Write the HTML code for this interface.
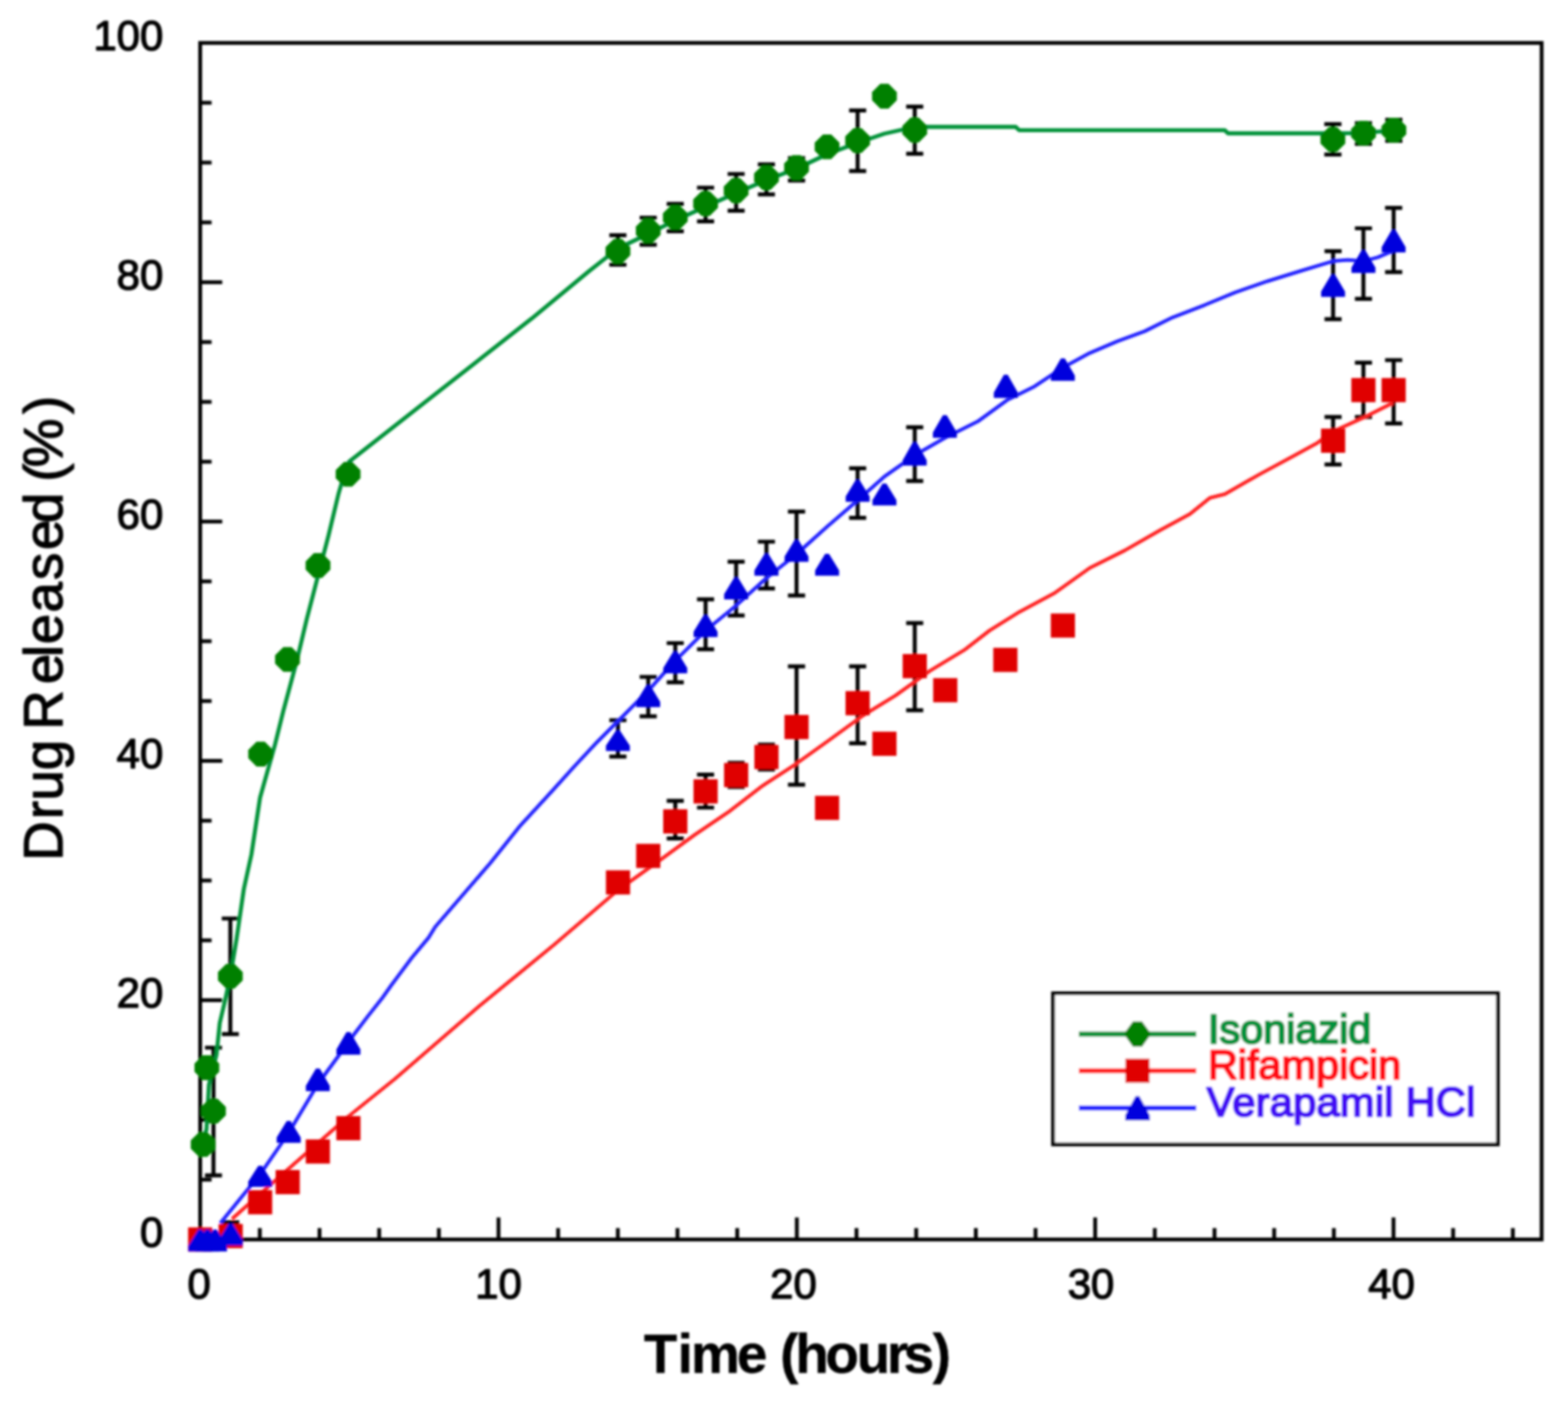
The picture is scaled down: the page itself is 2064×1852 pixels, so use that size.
<!DOCTYPE html>
<html lang="en"><head><meta charset="utf-8"><title>Drug release profile</title>
<style>html,body{margin:0;padding:0;background:#fff}body{width:2064px;height:1852px;overflow:hidden}svg{display:block}text{font-family:"Liberation Sans",Arial,Helvetica,sans-serif;fill:#000;stroke-linejoin:round}</style></head><body>
<svg width="2064" height="1852" viewBox="0 0 2064 1852">
<defs><filter id="soft" x="-2%" y="-2%" width="104%" height="104%"><feGaussianBlur stdDeviation="1.8"/></filter></defs>
<rect width="2064" height="1852" fill="#fff"/>
<g filter="url(#soft)">
<path d="M263.5 1552.8h15M263.5 1474.0h15M263.5 1395.2h15M263.5 1316.5h29M263.5 1237.8h15M263.5 1159.0h15M263.5 1080.2h15M263.5 1001.5h29M263.5 922.8h15M263.5 844.0h15M263.5 765.2h15M263.5 686.5h29M263.5 607.8h15M263.5 529.0h15M263.5 450.2h15M263.5 371.5h29M263.5 292.8h15M263.5 214.0h15M263.5 135.2h15M342.0 1631.5v-15M420.6 1631.5v-15M499.1 1631.5v-15M577.7 1631.5v-15M656.2 1631.5v-29M734.7 1631.5v-15M813.3 1631.5v-15M891.8 1631.5v-15M970.4 1631.5v-15M1048.9 1631.5v-29M1127.4 1631.5v-15M1206.0 1631.5v-15M1284.5 1631.5v-15M1363.1 1631.5v-15M1441.6 1631.5v-29M1520.1 1631.5v-15M1598.7 1631.5v-15M1677.2 1631.5v-15M1755.8 1631.5v-15M1834.3 1631.5v-29M1912.8 1631.5v-15M1991.4 1631.5v-15" stroke="#000" stroke-width="5.0" fill="none"/>
<rect x="263.5" y="56.5" width="1765.8" height="1575.0" fill="none" stroke="#000" stroke-width="5.0"/>
<g id="errorbars">
<path d="M281.0 1379.0V1547.2M269.8 1379.0H292.2M269.8 1547.2H292.2" stroke="#000" stroke-width="5.2" fill="none"/>
<path d="M303.2 1209.0V1361.2M291.9 1209.0H314.4M291.9 1361.2H314.4" stroke="#000" stroke-width="5.2" fill="none"/>
<path d="M813.4 309.6V348.5M802.1 309.6H824.6M802.1 348.5H824.6" stroke="#000" stroke-width="5.2" fill="none"/>
<path d="M853.3 286.5V322.1M842.0 286.5H864.5M842.0 322.1H864.5" stroke="#000" stroke-width="5.2" fill="none"/>
<path d="M888.9 268.4V304.3M877.6 268.4H900.1M877.6 304.3H900.1" stroke="#000" stroke-width="5.2" fill="none"/>
<path d="M928.8 247.0V291.4M917.5 247.0H940.0M917.5 291.4H940.0" stroke="#000" stroke-width="5.2" fill="none"/>
<path d="M969.0 229.0V277.3M957.8 229.0H980.2M957.8 277.3H980.2" stroke="#000" stroke-width="5.2" fill="none"/>
<path d="M1008.9 216.3V255.8M997.6 216.3H1020.1M997.6 255.8H1020.1" stroke="#000" stroke-width="5.2" fill="none"/>
<path d="M1048.5 208.0V237.7M1037.2 208.0H1059.8M1037.2 237.7H1059.8" stroke="#000" stroke-width="5.2" fill="none"/>
<path d="M1128.9 145.4V225.2M1117.7 145.4H1140.2M1117.7 225.2H1140.2" stroke="#000" stroke-width="5.2" fill="none"/>
<path d="M1204.1 140.4V202.4M1192.8 140.4H1215.3M1192.8 202.4H1215.3" stroke="#000" stroke-width="5.2" fill="none"/>
<path d="M1754.5 163.3V203.3M1743.2 163.3H1765.8M1743.2 203.3H1765.8" stroke="#000" stroke-width="5.2" fill="none"/>
<path d="M1794.8 162.0V189.5M1783.5 162.0H1806.0M1783.5 189.5H1806.0" stroke="#000" stroke-width="5.2" fill="none"/>
<path d="M1834.8 157.5V185.5M1823.5 157.5H1846.0M1823.5 185.5H1846.0" stroke="#000" stroke-width="5.2" fill="none"/>
<path d="M303.6 1608.8V1627.0M292.4 1608.8H314.9" stroke="#000" stroke-width="5.2" fill="none"/>
<path d="M888.9 1054.2V1103.6M877.6 1054.2H900.1M877.6 1103.6H900.1" stroke="#000" stroke-width="5.2" fill="none"/>
<path d="M928.8 1019.6V1063.0M917.5 1019.6H940.0M917.5 1063.0H940.0" stroke="#000" stroke-width="5.2" fill="none"/>
<path d="M969.0 1004.0V1036.0M957.8 1004.0H980.2M957.8 1036.0H980.2" stroke="#000" stroke-width="5.2" fill="none"/>
<path d="M1008.9 980.0V1013.0M997.6 980.0H1020.1M997.6 1013.0H1020.1" stroke="#000" stroke-width="5.2" fill="none"/>
<path d="M1048.5 877.1V1032.8M1037.2 877.1H1059.8M1037.2 1032.8H1059.8" stroke="#000" stroke-width="5.2" fill="none"/>
<path d="M1128.9 877.1V978.4M1117.7 877.1H1140.2M1117.7 978.4H1140.2" stroke="#000" stroke-width="5.2" fill="none"/>
<path d="M1204.1 820.1V934.8M1192.8 820.1H1215.3M1192.8 934.8H1215.3" stroke="#000" stroke-width="5.2" fill="none"/>
<path d="M1754.8 548.8V611.4M1743.5 548.8H1766.0M1743.5 611.4H1766.0" stroke="#000" stroke-width="5.2" fill="none"/>
<path d="M1794.7 477.3V548.8M1783.5 477.3H1806.0M1783.5 548.8H1806.0" stroke="#000" stroke-width="5.2" fill="none"/>
<path d="M1834.5 474.0V557.4M1823.2 474.0H1845.8M1823.2 557.4H1845.8" stroke="#000" stroke-width="5.2" fill="none"/>
<path d="M813.4 948.0V995.8M802.1 948.0H824.6M802.1 995.8H824.6" stroke="#000" stroke-width="5.2" fill="none"/>
<path d="M853.3 891.0V942.8M842.0 891.0H864.5M842.0 942.8H864.5" stroke="#000" stroke-width="5.2" fill="none"/>
<path d="M888.9 846.5V898.2M877.6 846.5H900.1M877.6 898.2H900.1" stroke="#000" stroke-width="5.2" fill="none"/>
<path d="M928.8 788.8V854.7M917.5 788.8H940.0M917.5 854.7H940.0" stroke="#000" stroke-width="5.2" fill="none"/>
<path d="M969.0 739.3V810.2M957.8 739.3H980.2M957.8 810.2H980.2" stroke="#000" stroke-width="5.2" fill="none"/>
<path d="M1008.9 713.0V774.6M997.6 713.0H1020.1M997.6 774.6H1020.1" stroke="#000" stroke-width="5.2" fill="none"/>
<path d="M1048.5 673.4V783.8M1037.2 673.4H1059.8M1037.2 783.8H1059.8" stroke="#000" stroke-width="5.2" fill="none"/>
<path d="M1128.9 616.4V681.6M1117.7 616.4H1140.2M1117.7 681.6H1140.2" stroke="#000" stroke-width="5.2" fill="none"/>
<path d="M1204.1 562.3V633.2M1192.8 562.3H1215.3M1192.8 633.2H1215.3" stroke="#000" stroke-width="5.2" fill="none"/>
<path d="M1754.8 330.7V420.2M1743.5 330.7H1766.0M1743.5 420.2H1766.0" stroke="#000" stroke-width="5.2" fill="none"/>
<path d="M1794.7 300.5V393.3M1783.5 300.5H1806.0M1783.5 393.3H1806.0" stroke="#000" stroke-width="5.2" fill="none"/>
<path d="M1834.5 273.6V358.2M1823.2 273.6H1845.8M1823.2 358.2H1845.8" stroke="#000" stroke-width="5.2" fill="none"/>
</g>
<polyline points="267.0,1500.0 271.8,1487.0 275.0,1427.8 285.0,1388.0 289.3,1346.5 296.0,1318.0 303.2,1285.0 311.3,1236.6 321.0,1170.0 331.0,1124.5 342.3,1050.0 362.1,979.7 373.0,935.7 390.7,869.8 403.8,814.8 418.1,759.9 432.4,705.0 445.6,650.0 452.0,628.0 459.6,607.7 700.0,419.2 776.0,356.4 813.4,327.0 853.0,308.0 889.0,290.0 929.0,272.0 969.0,254.0 1009.0,237.0 1048.5,222.0 1088.7,203.0 1128.9,188.0 1164.0,176.0 1204.1,167.0 1337.0,167.0 1341.5,171.3 1612.0,171.3 1616.5,175.5 1754.5,175.5 1794.8,175.2 1834.8,171.4" fill="none" stroke="#009238" stroke-width="5.3" stroke-linejoin="round"/>
<polyline points="305.5,1604.4 326.4,1585.7 378.0,1540.0 458.0,1470.0 520.0,1420.0 630.0,1325.0 730.0,1243.0 813.0,1172.0 871.8,1130.0 914.6,1098.7 960.8,1067.4 1003.6,1034.4 1046.5,1006.4 1092.6,973.4 1135.5,942.1 1178.4,915.7 1224.5,882.7 1270.7,854.7 1302.5,830.0 1342.1,805.3 1388.2,780.6 1434.4,747.6 1480.6,724.5 1526.7,698.1 1566.3,676.7 1592.6,655.3 1612.4,650.3 1658.6,624.0 1704.7,599.2 1734.4,582.8 1754.8,567.9 1794.7,549.8 1834.0,530.0" fill="none" stroke="#ff2222" stroke-width="4.8" stroke-linejoin="round"/>
<polyline points="290.0,1610.0 342.9,1545.0 378.8,1493.0 418.4,1427.0 458.6,1372.0 467.4,1359.7 485.0,1336.6 502.5,1314.6 515.7,1296.0 542.0,1260.8 564.0,1234.4 572.9,1220.0 645.4,1136.0 685.0,1086.6 724.5,1043.7 755.8,1009.0 786.0,976.7 813.4,949.3 853.3,909.1 888.9,869.6 928.8,830.0 969.0,797.0 1008.9,760.8 1048.5,729.4 1088.7,693.2 1128.9,658.6 1164.2,627.3 1204.1,599.2 1244.3,576.2 1287.1,554.7 1325.6,526.7 1361.9,508.6 1399.1,483.8 1434.4,464.7 1470.7,449.2 1506.9,436.0 1543.2,417.9 1586.0,401.4 1625.6,385.0 1668.5,370.1 1711.3,356.9 1754.8,343.7 1774.0,342.1 1794.7,343.7 1813.5,338.8 1834.0,330.0" fill="none" stroke="#2222ff" stroke-width="4.8" stroke-linejoin="round"/>
<g id="rif">
<rect x="247.6" y="1615.6" width="31.8" height="31.8" fill="#e00000"/>
<rect x="287.7" y="1611.1" width="31.8" height="31.8" fill="#e00000"/>
<rect x="326.5" y="1566.6" width="31.8" height="31.8" fill="#e00000"/>
<rect x="362.8" y="1540.1" width="31.8" height="31.8" fill="#e00000"/>
<rect x="402.5" y="1499.8" width="31.8" height="31.8" fill="#e00000"/>
<rect x="442.7" y="1469.1" width="31.8" height="31.8" fill="#e00000"/>
<rect x="797.6" y="1145.6" width="31.8" height="31.8" fill="#e00000"/>
<rect x="837.4" y="1110.7" width="31.8" height="31.8" fill="#e00000"/>
<rect x="873.0" y="1065.3" width="31.8" height="31.8" fill="#e00000"/>
<rect x="912.9" y="1025.8" width="31.8" height="31.8" fill="#e00000"/>
<rect x="953.1" y="1004.3" width="31.8" height="31.8" fill="#e00000"/>
<rect x="993.0" y="980.6" width="31.8" height="31.8" fill="#e00000"/>
<rect x="1032.6" y="941.1" width="31.8" height="31.8" fill="#e00000"/>
<rect x="1072.8" y="1047.5" width="31.8" height="31.8" fill="#e00000"/>
<rect x="1113.0" y="909.7" width="31.8" height="31.8" fill="#e00000"/>
<rect x="1148.3" y="963.1" width="31.8" height="31.8" fill="#e00000"/>
<rect x="1188.2" y="860.9" width="31.8" height="31.8" fill="#e00000"/>
<rect x="1228.4" y="892.6" width="31.8" height="31.8" fill="#e00000"/>
<rect x="1307.5" y="852.7" width="31.8" height="31.8" fill="#e00000"/>
<rect x="1383.2" y="807.5" width="31.8" height="31.8" fill="#e00000"/>
<rect x="1738.9" y="564.2" width="31.8" height="31.8" fill="#e00000"/>
<rect x="1778.8" y="497.6" width="31.8" height="31.8" fill="#e00000"/>
<rect x="1818.6" y="497.6" width="31.8" height="31.8" fill="#e00000"/>
</g><g id="ver">
<polygon points="261.0,1618.5 266.0,1618.5 279.2,1640.3 279.2,1647.3 247.8,1647.3 247.8,1640.3" fill="#0000dd"/>
<polygon points="270.5,1618.5 275.5,1618.5 288.8,1640.3 288.8,1647.3 257.2,1647.3 257.2,1640.3" fill="#0000dd"/>
<polygon points="280.5,1618.5 285.5,1618.5 298.8,1640.3 298.8,1647.3 267.2,1647.3 267.2,1640.3" fill="#0000dd"/>
<polygon points="301.1,1610.5 306.1,1610.5 319.4,1632.3 319.4,1639.3 287.9,1639.3 287.9,1632.3" fill="#0000dd"/>
<polygon points="340.0,1534.5 345.0,1534.5 358.2,1555.3 358.2,1562.3 326.8,1562.3 326.8,1555.3" fill="#0000dd"/>
<polygon points="377.5,1475.5 382.5,1475.5 395.8,1497.3 395.8,1504.3 364.2,1504.3 364.2,1497.3" fill="#0000dd"/>
<polygon points="415.9,1406.5 420.9,1406.5 434.1,1429.3 434.1,1436.3 402.6,1436.3 402.6,1429.3" fill="#0000dd"/>
<polygon points="456.1,1358.5 461.1,1358.5 474.4,1381.3 474.4,1388.3 442.9,1388.3 442.9,1381.3" fill="#0000dd"/>
<polygon points="810.9,961.4 815.9,961.4 829.1,981.5 829.1,988.5 797.6,988.5 797.6,981.5" fill="#0000dd"/>
<polygon points="850.8,902.0 855.8,902.0 869.0,923.8 869.0,930.8 837.5,930.8 837.5,923.8" fill="#0000dd"/>
<polygon points="886.4,857.5 891.4,857.5 904.6,879.3 904.6,886.3 873.1,886.3 873.1,879.3" fill="#0000dd"/>
<polygon points="926.3,809.7 931.3,809.7 944.5,831.5 944.5,838.5 913.0,838.5 913.0,831.5" fill="#0000dd"/>
<polygon points="966.5,760.3 971.5,760.3 984.8,782.1 984.8,789.1 953.2,789.1 953.2,782.1" fill="#0000dd"/>
<polygon points="1006.4,728.9 1011.4,728.9 1024.7,750.8 1024.7,757.8 993.1,757.8 993.1,750.8" fill="#0000dd"/>
<polygon points="1046.0,710.8 1051.0,710.8 1064.2,732.6 1064.2,739.6 1032.8,739.6 1032.8,732.6" fill="#0000dd"/>
<polygon points="1086.2,728.9 1091.2,728.9 1104.5,750.8 1104.5,757.8 1073.0,757.8 1073.0,750.8" fill="#0000dd"/>
<polygon points="1126.4,631.7 1131.4,631.7 1144.7,653.5 1144.7,660.5 1113.2,660.5 1113.2,653.5" fill="#0000dd"/>
<polygon points="1161.7,636.5 1166.7,636.5 1180.0,658.3 1180.0,665.3 1148.5,665.3 1148.5,658.3" fill="#0000dd"/>
<polygon points="1201.6,582.2 1206.6,582.2 1219.8,605.7 1219.8,612.7 1188.3,612.7 1188.3,605.7" fill="#0000dd"/>
<polygon points="1241.2,546.5 1246.2,546.5 1259.5,569.3 1259.5,576.3 1228.0,576.3 1228.0,569.3" fill="#0000dd"/>
<polygon points="1321.5,493.2 1326.5,493.2 1339.8,516.7 1339.8,523.7 1308.2,523.7 1308.2,516.7" fill="#0000dd"/>
<polygon points="1396.6,471.8 1401.6,471.8 1414.8,494.3 1414.8,501.3 1383.3,501.3 1383.3,494.3" fill="#0000dd"/>
<polygon points="1752.3,361.5 1757.3,361.5 1770.5,383.8 1770.5,390.8 1739.0,390.8 1739.0,383.8" fill="#0000dd"/>
<polygon points="1792.2,329.5 1797.2,329.5 1810.5,352.3 1810.5,359.3 1779.0,359.3 1779.0,352.3" fill="#0000dd"/>
<polygon points="1832.0,302.8 1837.0,302.8 1850.2,325.2 1850.2,332.2 1818.8,332.2 1818.8,325.2" fill="#0000dd"/>
</g><g id="iso">
<polygon points="262.0,1490.2 272.8,1490.2 283.7,1501.1 283.7,1511.9 272.8,1522.8 262.0,1522.8 251.1,1511.9 251.1,1501.1" fill="#008000"/>
<polygon points="275.6,1446.2 286.4,1446.2 297.3,1457.1 297.3,1467.9 286.4,1478.8 275.6,1478.8 264.7,1467.9 264.7,1457.1" fill="#008000"/>
<polygon points="266.9,1389.1 277.7,1389.1 288.6,1400.0 288.6,1410.8 277.7,1421.7 266.9,1421.7 256.0,1410.8 256.0,1400.0" fill="#008000"/>
<polygon points="297.8,1268.7 308.6,1268.7 319.5,1279.6 319.5,1290.4 308.6,1301.3 297.8,1301.3 286.9,1290.4 286.9,1279.6" fill="#008000"/>
<polygon points="337.7,976.3 348.5,976.3 359.4,987.2 359.4,998.0 348.5,1008.9 337.7,1008.9 326.8,998.0 326.8,987.2" fill="#008000"/>
<polygon points="373.0,851.7 383.8,851.7 394.7,862.6 394.7,873.4 383.8,884.3 373.0,884.3 362.1,873.4 362.1,862.6" fill="#008000"/>
<polygon points="413.2,728.1 424.0,728.1 434.9,739.0 434.9,749.8 424.0,760.7 413.2,760.7 402.3,749.8 402.3,739.0" fill="#008000"/>
<polygon points="452.8,607.9 463.6,607.9 474.5,618.8 474.5,629.6 463.6,640.5 452.8,640.5 441.9,629.6 441.9,618.8" fill="#008000"/>
<polygon points="808.0,314.4 818.8,314.4 829.7,325.3 829.7,336.1 818.8,347.0 808.0,347.0 797.1,336.1 797.1,325.3" fill="#008000"/>
<polygon points="847.9,287.3 858.7,287.3 869.6,298.2 869.6,309.0 858.7,319.9 847.9,319.9 837.0,309.0 837.0,298.2" fill="#008000"/>
<polygon points="883.5,269.9 894.3,269.9 905.2,280.8 905.2,291.6 894.3,302.5 883.5,302.5 872.6,291.6 872.6,280.8" fill="#008000"/>
<polygon points="923.4,251.7 934.2,251.7 945.1,262.6 945.1,273.4 934.2,284.3 923.4,284.3 912.5,273.4 912.5,262.6" fill="#008000"/>
<polygon points="963.6,234.6 974.4,234.6 985.3,245.5 985.3,256.3 974.4,267.2 963.6,267.2 952.7,256.3 952.7,245.5" fill="#008000"/>
<polygon points="1003.5,217.4 1014.3,217.4 1025.2,228.3 1025.2,239.1 1014.3,250.0 1003.5,250.0 992.6,239.1 992.6,228.3" fill="#008000"/>
<polygon points="1043.1,204.3 1053.9,204.3 1064.8,215.2 1064.8,226.0 1053.9,236.9 1043.1,236.9 1032.2,226.0 1032.2,215.2" fill="#008000"/>
<polygon points="1083.3,176.9 1094.1,176.9 1105.0,187.8 1105.0,198.6 1094.1,209.5 1083.3,209.5 1072.4,198.6 1072.4,187.8" fill="#008000"/>
<polygon points="1123.5,168.7 1134.3,168.7 1145.2,179.6 1145.2,190.4 1134.3,201.3 1123.5,201.3 1112.6,190.4 1112.6,179.6" fill="#008000"/>
<polygon points="1158.8,110.3 1169.6,110.3 1180.5,121.2 1180.5,132.0 1169.6,142.9 1158.8,142.9 1147.9,132.0 1147.9,121.2" fill="#008000"/>
<polygon points="1198.7,154.8 1209.5,154.8 1220.4,165.7 1220.4,176.5 1209.5,187.4 1198.7,187.4 1187.8,176.5 1187.8,165.7" fill="#008000"/>
<polygon points="1749.1,167.2 1759.9,167.2 1770.8,178.1 1770.8,188.9 1759.9,199.8 1749.1,199.8 1738.2,188.9 1738.2,178.1" fill="#008000"/>
<polygon points="1789.4,158.9 1800.2,158.9 1811.1,169.8 1811.1,180.6 1800.2,191.5 1789.4,191.5 1778.5,180.6 1778.5,169.8" fill="#008000"/>
<polygon points="1829.4,155.1 1840.2,155.1 1851.1,166.0 1851.1,176.8 1840.2,187.7 1829.4,187.7 1818.5,176.8 1818.5,166.0" fill="#008000"/>
</g>
<rect x="1386.2" y="1307.5" width="585.4" height="198.8" fill="#fff" stroke="#000" stroke-width="5.0"/>
<line x1="1420" y1="1361.1" x2="1574.6" y2="1361.1" stroke="#009238" stroke-width="6.8"/>
<line x1="1420" y1="1409.4" x2="1574.6" y2="1409.4" stroke="#ff2222" stroke-width="6.8"/>
<line x1="1420" y1="1458.3" x2="1574.6" y2="1458.3" stroke="#2222ff" stroke-width="6.8"/>
<polygon points="1491.3,1344.5 1503.3,1344.5 1513.9,1359.1 1513.9,1363.1 1503.3,1377.7 1491.3,1377.7 1480.7,1363.1 1480.7,1359.1" fill="#008000"/>
<rect x="1481.4" y="1393.5" width="31.8" height="31.8" fill="#e00000"/>
<polygon points="1494.8,1442.7 1499.8,1442.7 1513.5,1468.1 1513.5,1475.1 1481.0,1475.1 1481.0,1468.1" fill="#0000dd"/>
<text x="1590" y="1372.5" font-size="54.5" style="fill:#00923c;stroke:#00923c;stroke-width:3.0">Isoniazid</text>
<text x="1590" y="1420" font-size="54.5" style="fill:#ff0a14;stroke:#ff0a14;stroke-width:3.0">Rifampicin</text>
<text x="1588.5" y="1468.5" font-size="54.5" textLength="353.5" lengthAdjust="spacing" style="fill:#4408f4;stroke:#4408f4;stroke-width:3.0">Verapamil HCl</text>
<text x="215" y="1641.1" font-size="55.2" text-anchor="end" stroke="#000" stroke-width="1.6">0</text>
<text x="215" y="1326.1" font-size="55.2" text-anchor="end" stroke="#000" stroke-width="1.6">20</text>
<text x="215" y="1011.1" font-size="55.2" text-anchor="end" stroke="#000" stroke-width="1.6">40</text>
<text x="215" y="696.1" font-size="55.2" text-anchor="end" stroke="#000" stroke-width="1.6">60</text>
<text x="215" y="381.1" font-size="55.2" text-anchor="end" stroke="#000" stroke-width="1.6">80</text>
<text x="215" y="66.1" font-size="55.2" text-anchor="end" stroke="#000" stroke-width="1.6">100</text>
<text x="262.1" y="1708.6" font-size="55.2" text-anchor="middle" stroke="#000" stroke-width="1.6">0</text>
<text x="656.2" y="1708.6" font-size="55.2" text-anchor="middle" stroke="#000" stroke-width="1.6">10</text>
<text x="1044.4" y="1708.6" font-size="55.2" text-anchor="middle" stroke="#000" stroke-width="1.6">20</text>
<text x="1436.1" y="1708.6" font-size="55.2" text-anchor="middle" stroke="#000" stroke-width="1.6">30</text>
<text x="1831.8" y="1708.6" font-size="55.2" text-anchor="middle" stroke="#000" stroke-width="1.6">40</text>
<text y="1806.5" font-size="72" font-weight="bold" stroke="#000" stroke-width="0.6" x="847.5 891.9 909.7 970 1008 1027.1 1046.9 1086.6 1127.8 1167.5 1189.4 1227.8">Time (hours)</text>
<text transform="translate(82 1133) rotate(-90)" font-size="72" stroke="#000" stroke-width="1.6" x="0 54.7 79.3 119.2 156 172.4 232.5 268 285 326.7 369.4 409 444.5 480 499 518 588">Drug Released (%)</text>
</g>
</svg></body></html>
